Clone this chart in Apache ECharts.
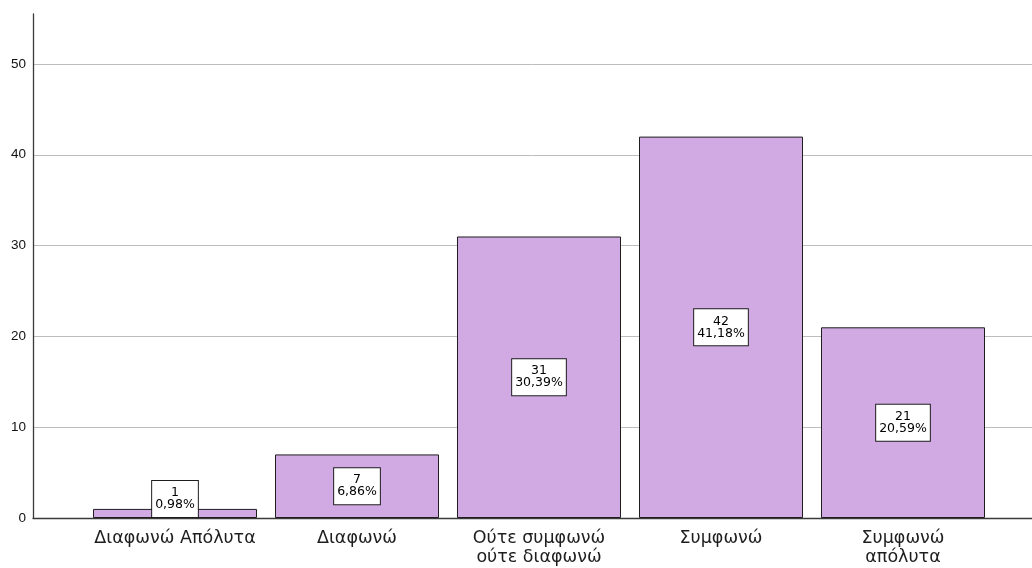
<!DOCTYPE html>
<html>
<head>
<meta charset="utf-8">
<script src="https://cdn.jsdelivr.net/npm/echarts@6/dist/echarts.min.js"></script>
<style>
  html, body { margin: 0; padding: 0; background: #ffffff; }
  #chart { width: 1032px; height: 568px; }
</style>
</head>
<body>
<div id="chart"></div>
<script>
// Response categories (Likert scale)
const categories = ['Διαφωνώ Απόλυτα', 'Διαφωνώ', 'Ούτε συμφωνώ\nούτε διαφωνώ', 'Συμφωνώ', 'Συμφωνώ\nαπόλυτα'];
// Counts per category
const counts = [1, 7, 31, 42, 21];
// Share of respondents, percent
const percents = [0.98, 6.86, 30.39, 41.18, 20.59];
// Value axis range and ticks
const yMin = 0;
const yMax = 55.5;
const yInterval = 10;

const FONT = '"DejaVu Sans", Verdana, sans-serif';
const TICK_FONT = '"Liberation Sans", Arial, sans-serif';

const chart = echarts.init(document.getElementById('chart'), null, { renderer: 'canvas' });

// small bars keep their value box resting on the baseline
const barData = counts.map((v) => {
  const item = { value: v };
  if (v < 4) {
    item.label = { position: 'insideBottom', distance: 1 };
  }
  return item;
});

const fmtPct = (x) => x.toFixed(2).replace('.', ',') + '%';

chart.setOption({
  animation: false,
  backgroundColor: '#ffffff',
  grid: [
    // frame grid: axis lines, tick labels, gridlines
    { left: 33, right: 0, top: 14, bottom: 50 },
    // bar grid
    { left: 84, right: 38, top: 14, bottom: 50 }
  ],
  xAxis: [
    {
      gridIndex: 0, type: 'value', min: 0, max: 1,
      axisLine: { show: true, lineStyle: { color: '#3a3a3a', width: 1.3 } },
      axisTick: { show: false }, axisLabel: { show: false }, splitLine: { show: false }
    },
    {
      gridIndex: 1, type: 'category', data: categories,
      axisLine: { show: false }, axisTick: { show: false },
      axisLabel: {
        interval: 0, margin: 11, fontFamily: FONT, fontSize: 17.5, lineHeight: 19, color: '#1e1e1e'
      }
    }
  ],
  yAxis: [
    {
      gridIndex: 0, type: 'value', min: yMin, max: yMax, interval: yInterval,
      axisLine: { show: true, lineStyle: { color: '#3a3a3a', width: 1.3 } },
      axisTick: { show: false },
      axisLabel: { margin: 7, fontFamily: TICK_FONT, fontSize: 13.5, color: '#111111', showMaxLabel: false },
      splitLine: { show: true, showMinLine: false, showMaxLine: false, lineStyle: { color: '#bdbdbd', width: 1 } }
    },
    {
      gridIndex: 1, type: 'value', min: yMin, max: yMax, interval: yInterval, show: false,
      splitLine: { show: false }
    }
  ],
  series: [
    {
      type: 'bar',
      xAxisIndex: 1,
      yAxisIndex: 1,
      data: barData,
      barWidth: 164,
      itemStyle: { color: '#d1a9e3', borderColor: '#1e1e1e', borderWidth: 1 },
      label: {
        show: true,
        position: 'inside',
        formatter: (p) => counts[p.dataIndex] + '\n' + fmtPct(percents[p.dataIndex]),
        fontFamily: FONT,
        fontSize: 12.5,
        lineHeight: 12,
        color: '#000000',
        backgroundColor: '#ffffff',
        borderColor: '#1e1e1e',
        borderWidth: 1,
        padding: [6, 3, 6, 3],
        align: 'center'
      }
    }
  ]
});
</script>
</body>
</html>
